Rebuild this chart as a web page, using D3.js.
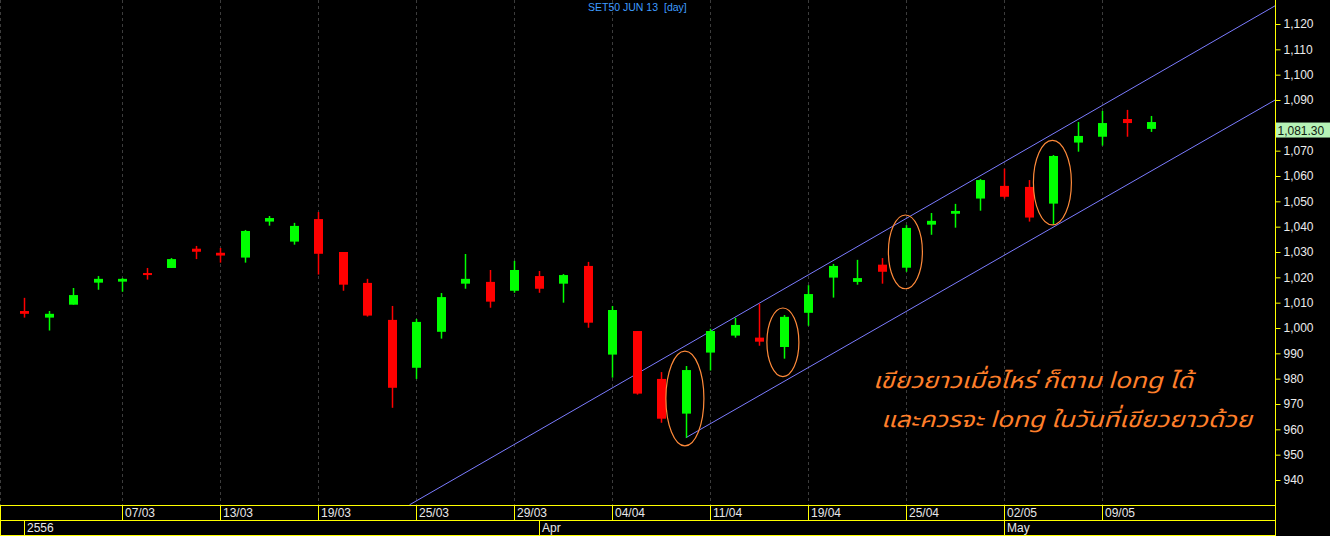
<!DOCTYPE html>
<html>
<head>
<meta charset="utf-8">
<script src="https://cdnjs.cloudflare.com/ajax/libs/d3/7.8.5/d3.min.js"></script>
<style>
  html, body { margin: 0; padding: 0; background: #000; }
  svg { display: block; }
</style>
</head>
<body>
<div id="chart"></div>
<script>
var width = 1330;
var height = 536;
var axisX = 1275.5;   // right price axis
var plotBottom = 505;

// trading days (index = position on the x axis)
var dates = ["01/03","04/03","05/03","06/03","07/03","08/03","11/03","12/03","13/03","14/03",
  "15/03","18/03","19/03","20/03","21/03","22/03","25/03","26/03","27/03","28/03",
  "29/03","01/04","02/04","03/04","04/04","05/04","09/04","10/04","11/04","12/04",
  "17/04","18/04","19/04","22/04","23/04","24/04","25/04","26/04","29/04","30/04",
  "02/05","03/05","07/05","08/05","09/05","10/05","13/05"];

var opens  = [1006.7,1004.1,1009.2,1017.9,1018.3,1021.7,1023.7,1031.3,1029.7,1027.8,
  1042.0,1034.1,1043.0,1030.0,1017.8,1003.2,984.3,998.5,1017.5,1018.2,
  1014.7,1020.5,1017.5,1024.5,989.5,998.8,979.9,966.2,990.3,997.0,
  996.2,992.5,1006.0,1019.9,1018.2,1025.0,1023.8,1040.8,1045.1,1051.1,
  1056.1,1055.7,1049.1,1073.2,1075.5,1082.5,1078.6];
var highs  = [1011.9,1006.7,1015.8,1020.5,1019.7,1023.7,1027.6,1032.4,1031.6,1038.7,
  1044.2,1041.5,1045.8,1030.0,1019.4,1008.7,1003.6,1013.8,1029.2,1022.9,
  1026.5,1022.5,1021.3,1026.1,1008.7,998.8,982.6,985.0,999.7,1004.0,
  1009.6,1005.1,1016.9,1025.3,1026.9,1027.6,1040.6,1045.4,1049.0,1058.8,
  1062.9,1058.4,1068.3,1081.3,1085.7,1086.1,1083.7];
var lows   = [1004.1,999.0,1009.2,1015.1,1014.3,1019.1,1023.7,1027.2,1025.8,1025.8,
  1040.4,1032.9,1021.1,1014.7,1004.5,968.5,979.9,995.8,1015.5,1008.0,
  1013.9,1013.9,1010.0,1000.1,980.4,973.7,962.6,956.7,983.2,996.2,
  993.0,987.9,1000.9,1012.0,1017.1,1017.5,1022.2,1036.8,1039.6,1046.3,
  1051.1,1042.0,1040.8,1069.6,1072.0,1075.5,1077.4];
var closes = [1005.6,1005.6,1013.0,1019.4,1019.4,1020.9,1027.2,1030.1,1028.6,1038.3,
  1043.4,1040.3,1029.3,1017.1,1004.9,976.4,1002.4,1012.2,1019.4,1010.4,
  1022.9,1015.5,1020.9,1002.1,1007.1,974.1,964.2,983.4,998.8,1001.2,
  994.6,1004.4,1013.4,1024.5,1019.7,1022.2,1039.5,1042.3,1046.2,1058.4,
  1051.8,1043.6,1067.9,1075.8,1080.9,1080.9,1081.3];

var tickDates = ["07/03","13/03","19/03","25/03","29/03","04/04","11/04","19/04","25/04","02/05","09/05"];
var monthLabels = [{date: "01/03", label: "2556"}, {date: "01/04", label: "Apr"}, {date: "02/05", label: "May"}];
var priceTicks = d3.range(940, 1121, 10).filter(v => v !== 1080);
var lastPrice = 1081.30;

// channel lines: [day index, price] anchors, extended to the right edge
var upperChannel = [[15.72, 930.2], [51.05, 1127.2]];
var lowerChannel = [[27, 956.7], [51.05, 1090.0]];

// highlighted long green candles: index, top and bottom price of the ellipse
var highlights = [
  {i: 27, top: 990.9, bottom: 953.5},
  {i: 31, top: 1007.9, bottom: 980.8},
  {i: 36, top: 1044.6, bottom: 1015.5},
  {i: 42, top: 1074.1, bottom: 1040.7}
];

var noteLines = ["เขียวยาวเมื่อไหร่ ก็ตาม long ได้", "และควรจะ long ในวันที่เขียวยาวด้วย"];

var candles = dates.map((d, i) => ({date: d, i: i, o: opens[i], h: highs[i], l: lows[i], c: closes[i]}));

var x = d3.scaleLinear().domain([0, dates.length - 1]).range([24.4, 24.4 + (dates.length - 1) * 24.5]);
var y = d3.scaleLinear().domain([940, 1120]).range([480, 24]);
var idx = d => dates.indexOf(d);

var svg = d3.select("#chart").append("svg")
    .attr("width", width)
    .attr("height", height)
    .style("font-family", "'Liberation Sans', Arial, sans-serif");

svg.append("rect").attr("width", width).attr("height", height).attr("fill", "#000");

svg.append("defs").append("clipPath").attr("id", "plotClip")
  .append("rect").attr("x", 0).attr("y", 0).attr("width", axisX).attr("height", plotBottom);

// dashed vertical grid
svg.selectAll("line.grid")
    .data([0.5].concat(tickDates.map(d => Math.round(x(idx(d))) + 0.5)))
    .enter().append("line")
    .attr("x1", d => d).attr("x2", d => d)
    .attr("y1", 0).attr("y2", plotBottom)
    .attr("stroke", "#3c3c3c").attr("stroke-dasharray", "3,3");

// title
svg.append("text")
    .attr("x", 588).attr("y", 11)
    .attr("font-size", "10.5px").attr("fill", "#3f9cff")
    .text("SET50 JUN 13");
svg.append("text")
    .attr("x", 664).attr("y", 11)
    .attr("font-size", "10.5px").attr("fill", "#3f9cff")
    .text("[day]");

var plot = svg.append("g").attr("clip-path", "url(#plotClip)");

// channel lines
var extend = function (pts) {
    var slope = (pts[1][1] - pts[0][1]) / (pts[1][0] - pts[0][0]);
    var endIdx = x.invert(axisX);
    return [[pts[0][0], pts[0][1]], [endIdx, pts[0][1] + slope * (endIdx - pts[0][0])]];
};
var lineGen = d3.line().x(d => x(d[0])).y(d => y(d[1]));
[upperChannel, lowerChannel].forEach(pts => {
    plot.append("path")
        .attr("d", lineGen(extend(pts)))
        .attr("fill", "none").attr("stroke", "#7b7bff").attr("stroke-width", 1);
});

// candles
var cw = 9;
var g = plot.selectAll("g.candle").data(candles).enter().append("g");
g.append("line")
    .attr("x1", d => Math.round(x(d.i)) + 0.5).attr("x2", d => Math.round(x(d.i)) + 0.5)
    .attr("y1", d => y(d.h)).attr("y2", d => y(d.l))
    .attr("stroke", d => d.c >= d.o ? "#00ff00" : "#ff0000").attr("stroke-width", 1.5);
g.append("rect")
    .attr("x", d => Math.round(x(d.i)) + 0.5 - cw / 2)
    .attr("y", d => y(Math.max(d.o, d.c)))
    .attr("width", cw)
    .attr("height", d => Math.max(2, y(Math.min(d.o, d.c)) - y(Math.max(d.o, d.c))))
    .attr("fill", d => d.c >= d.o ? "#00ff00" : "#ff0000");

// ellipses round the long green candles
plot.selectAll("ellipse").data(highlights).enter().append("ellipse")
    .attr("cx", d => x(d.i) - 1)
    .attr("cy", d => (y(d.top) + y(d.bottom)) / 2)
    .attr("rx", d => d.i === 31 ? 16 : (d.i === 36 ? 17 : 19))
    .attr("ry", d => (y(d.bottom) - y(d.top)) / 2)
    .attr("fill", "none").attr("stroke", "#ff8a3a").attr("stroke-width", 1.2);

// note
var noteLen = [320, 371];
svg.selectAll("text.note").data(noteLines).enter().append("text")
    .attr("x", (d, i) => i === 0 ? 873 : 881)
    .attr("y", (d, i) => i === 0 ? 388 : 427)
    .attr("font-size", "22px").attr("font-style", "italic")
    .attr("fill", "#ff7f2a")
    .attr("textLength", (d, i) => noteLen[i])
    .attr("lengthAdjust", "spacingAndGlyphs")
    .style("font-family", "Tahoma, 'Noto Sans Thai', 'Noto Sans', 'DejaVu Sans', sans-serif")
    .text(d => d);

// right price axis
svg.append("line").attr("x1", axisX).attr("x2", axisX).attr("y1", 0).attr("y2", height)
    .attr("stroke", "#ffff00").attr("stroke-width", 1);
var ax = svg.append("g").attr("transform", "translate(" + axisX + ",0)")
    .call(d3.axisRight(y).tickValues(priceTicks).tickFormat(d3.format(",")).tickSize(5).tickPadding(3));
ax.select(".domain").remove();
ax.selectAll(".tick line").attr("stroke", "#ffff00");
ax.selectAll(".tick text").attr("fill", "#ececec").attr("font-size", "12px")
    .style("font-family", "'Liberation Sans', Arial, sans-serif");

// last price label
svg.append("rect").attr("x", axisX + 0.5).attr("y", y(lastPrice) + 0.5).attr("width", width - axisX).attr("height", 15)
    .attr("fill", "#b6f3b6");
svg.append("text").attr("x", axisX + 2).attr("y", y(lastPrice) + 12.5)
    .attr("font-size", "12px").attr("fill", "#102010")
    .text(d3.format(",.2f")(lastPrice));

// bottom date rows
var rows = [505.5, 520.5, 535.5];
rows.forEach(r => {
    svg.append("line").attr("x1", 0).attr("x2", axisX).attr("y1", r).attr("y2", r)
        .attr("stroke", "#ffff00").attr("stroke-width", 1);
});
svg.append("line").attr("x1", 0.5).attr("x2", 0.5).attr("y1", 505).attr("y2", 536).attr("stroke", "#ffff00");

svg.selectAll("line.daysep").data(tickDates).enter().append("line")
    .attr("x1", d => Math.round(x(idx(d))) + 0.5).attr("x2", d => Math.round(x(idx(d))) + 0.5)
    .attr("y1", 505).attr("y2", 520)
    .attr("stroke", "#ffff00");
svg.selectAll("text.day").data(tickDates).enter().append("text")
    .attr("x", d => Math.round(x(idx(d))) + 3)
    .attr("y", 517)
    .attr("font-size", "12px").attr("fill", "#e8e8e8")
    .text(d => d);

svg.selectAll("line.monsep").data(monthLabels).enter().append("line")
    .attr("x1", d => Math.round(x(idx(d.date))) + 0.5).attr("x2", d => Math.round(x(idx(d.date))) + 0.5)
    .attr("y1", 520).attr("y2", 536)
    .attr("stroke", "#ffff00");
svg.selectAll("text.month").data(monthLabels).enter().append("text")
    .attr("x", d => Math.round(x(idx(d.date))) + 3)
    .attr("y", 532)
    .attr("font-size", "12px").attr("fill", "#e8e8e8")
    .text(d => d.label);
</script>
</body>
</html>
